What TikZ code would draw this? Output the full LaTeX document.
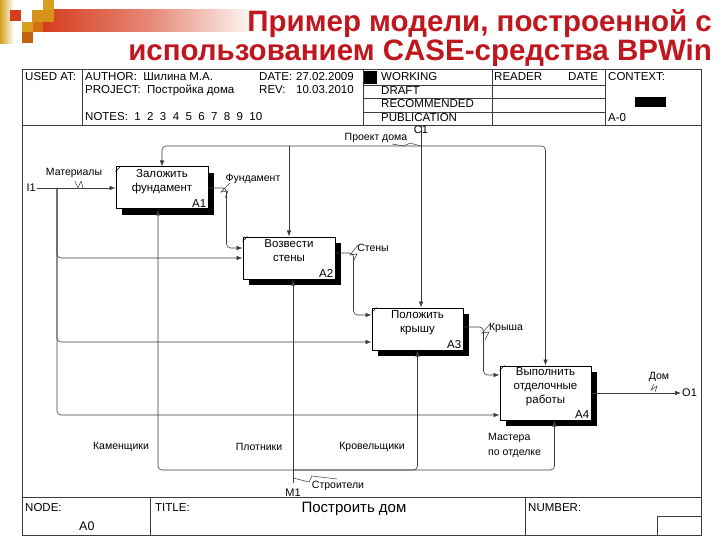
\documentclass[tikz,border=0pt]{standalone}
\usepackage{fontspec}
\setmainfont{Liberation Sans}
\usetikzlibrary{arrows.meta,calc,shadows}
\definecolor{titred}{RGB}{192,22,30}
\definecolor{goldc}{RGB}{214,160,30}
\definecolor{orgc}{RGB}{214,110,20}
\definecolor{redc}{RGB}{214,60,30}
\definecolor{ln}{RGB}{60,60,60}
\begin{document}
\begin{tikzpicture}[x=1pt,y=-1pt,
  hdr/.style={font=\fontsize{11.5}{13}\selectfont, inner sep=0pt, anchor=base west},
  lbl/.style={font=\fontsize{10.5}{13}\selectfont, inner sep=0pt},
  abox/.style={draw=black, line width=1pt, fill=white, minimum width=92pt, minimum height=42pt,
     drop shadow={shadow xshift=6pt, shadow yshift=-6pt, fill=black, opacity=1}},
  btxt/.style={font=\fontsize{11.5}{14}\selectfont, align=center, inner sep=0pt, anchor=north},
  bnum/.style={font=\fontsize{11.5}{13}\selectfont, inner sep=2pt, anchor=south east},
  frm/.style={draw=ln, line width=0.7pt},
  arr/.style={draw=ln, line width=0.6pt, -{Latex[length=6pt,width=4.5pt]}},
  rc/.style={rounded corners=4pt},
  sq/.style={draw=ln, line width=0.5pt}]
\useasboundingbox (0,0) rectangle (720,540);
\fill[white] (0,0) rectangle (720,540);
% decoration
\shade[left color=goldc, right color=white] (0,0) rectangle (14,44);
\shade[left color=redc, right color=white, middle color=redc!60!white] (43,10) rectangle (260,32);
\fill[goldc] (43,0) rectangle (54,10);
\fill[goldc!70!orgc] (32,10) rectangle (54,22);
\fill[redc] (10,10) rectangle (21,21);
\fill[goldc] (22,22) rectangle (33,32);
\fill[orgc] (33,22) rectangle (43,32);
\fill[orgc!90!black] (22,32) rectangle (33,43);
% title
\node[font=\fontsize{29.5}{32}\selectfont\bfseries, text=titred, anchor=base east, inner sep=0pt] (t1) at (712,32) {Пример модели, построенной с};
\node[font=\fontsize{29.5}{32}\selectfont\bfseries, text=titred, anchor=base east, inner sep=0pt] (t2) at (712,61) {использованием CASE-средства BPWin};
% frame
\draw[frm] (22,69) rectangle (701,535);
\draw[frm] (22,125) -- (701,125);
\draw[frm] (22,497) -- (701,497);
\draw[frm] (82,69) -- (82,125);
\draw[frm] (363,69) -- (363,125);
\draw[frm] (492,69) -- (492,125);
\draw[frm] (605,69) -- (605,125);
\draw[frm] (363,85) -- (605,85);
\draw[frm] (363,98) -- (605,98);
\draw[frm] (363,112) -- (605,112);
\fill[black] (364,71) rectangle (377,84);
\fill[black] (635,97) rectangle (666,107);
\draw[frm] (150,497) -- (150,535);
\draw[frm] (525,497) -- (525,535);
\draw[frm] (657,535) -- (657,516) -- (701,516);
% header text
\node[hdr] (usedat) at (25,81) {USED AT:};
\node[hdr] (author) at (85,81) {AUTHOR:\ \ Шилина М.А.};
\node[hdr] (date) at (259,81) {DATE:};
\node[hdr] (dateval) at (296,81) {27.02.2009};
\node[hdr] (project) at (85,94) {PROJECT:\ \ Постройка дома};
\node[hdr] (rev) at (259,94) {REV:};
\node[hdr] (revval) at (296,94) {10.03.2010};
\node[hdr] (notes) at (85,121) {NOTES:\ \ 1\ \ 2\ \ 3\ \ 4\ \ 5\ \ 6\ \ 7\ \ 8\ \ 9\ \ 10};
\node[hdr] (working) at (381,81) {WORKING};
\node[hdr] (draft) at (381,95) {DRAFT};
\node[hdr] (recom) at (381,108) {RECOMMENDED};
\node[hdr] (publ) at (381,121.5) {PUBLICATION};
\node[hdr] (reader) at (494,81) {READER};
\node[hdr] (date2) at (568,81) {DATE};
\node[hdr] (context) at (608,81) {CONTEXT:};
\node[hdr] (a0ctx) at (608,121.5) {A-0};
% footer text
\node[hdr] (nodelbl) at (25,511) {NODE:};
\node[hdr, font=\fontsize{12.5}{14}\selectfont] (a0) at (79,530) {A0};
\node[hdr] (title) at (155,511) {TITLE:};
\node[font=\fontsize{15}{16}\selectfont, inner sep=0pt] (titleval) at (354,509) {Построить дом};
\node[hdr] (number) at (528,511) {NUMBER:};
% boxes
\node[abox] (A1) at (162,188) {};
\node[abox] (A2) at (289,258) {};
\node[abox, minimum width=91pt] (A3) at (417.5,329) {};
\node[abox, minimum width=91pt, minimum height=54pt] (A4) at (545.5,393) {};
\foreach \b in {A1,A2,A3,A4}{
  \draw[line width=0.6pt] ($(\b.north west)+(0,5)$) -- ($(\b.north west)+(5,0)$);
  \node[bnum] (n\b) at (\b.south east) {\b};
}
\node[btxt] (t A1) at ($(A1.north)+(0,2.5)$) {Заложить\\фундамент};
\node[btxt] (t A2) at ($(A2.north)+(0,2.5)$) {Возвести\\стены};
\node[btxt] (t A3) at ($(A3.north)+(0,2.5)$) {Положить\\крышу};
\node[btxt] (t A4) at ($(A4.north)+(0,1.5)$) {Выполнить\\отделочные\\работы};
% boundary coordinates
\coordinate (C1) at (421,125);
\coordinate (cj) at (421,146);
\coordinate (I1) at (37,188);
\coordinate (ij) at (57,188);
\coordinate (O1) at (681,393);
\coordinate (M1) at (293,483);
\coordinate (mj) at (293,470);
\node[lbl, font=\fontsize{11}{13}\selectfont] (C1lbl) at (421,130) {C1};
\node[lbl, font=\fontsize{11}{13}\selectfont, anchor=east] (I1lbl) at (36,188) {I1};
\node[lbl, font=\fontsize{11}{13}\selectfont, anchor=west] (O1lbl) at (682,393) {O1};
\node[lbl, font=\fontsize{11}{13}\selectfont] (M1lbl) at (293,493) {M1};
% controls
\draw[arr] (C1) -- (C1 |- A3.north);
\draw[arr, rc] (cj) -| (A1.north);
\draw[arr, rc] (cj) -| (A4.north);
\draw[arr] (cj -| A2.north) -- (A2.north);
% inputs
\draw[arr] (I1) -- (A1.west);
\draw[arr, rc] (ij) |- (A2.west);
\draw[arr, rc] (ij) |- ($(A3.west)+(0,13)$);
\draw[arr, rc] (ij) |- ($(A4.west)+(0,22)$);
% outputs
\draw[arr, rc] (A1.east) -- ++(18,0) |- ($(A2.west)+(0,-10)$);
\draw[arr, rc] ($(A2.east)+(0,-5)$) -- ++(18,0) |- ($(A3.west)+(0,-14)$);
\draw[arr, rc] ($(A3.east)+(0,-2)$) -- ++(20,0) |- ($(A4.west)+(0,-18)$);
\draw[arr] (A4.east) -- (O1);
% mechanisms
\draw[arr] (M1) -- (M1 |- A2.south);
\draw[arr, rc] (mj) -| ($(A1.south)+(-4,0)$);
\draw[arr, rc] (mj) -| (A3.south);
\draw[arr, rc] (mj) -| ($(A4.south)+(9,0)$);
% labels
\node[lbl] (lmat) at (74,173) {Материалы};
\draw[sq] (75,181) -- (78,188) -- (81,181) -- (83,188);
\node[lbl] (lfund) at (253,179) {Фундамент};
\draw[sq] (230,183) -- (221,192) -- (228,191) -- (225,198);
\node[lbl] (lproj) at (376,138) {Проект дома};
\draw[sq] (392,144) -- (404,146) -- (410,143) -- (421,146);
\node[lbl] (lsten) at (373,248) {Стены};
\draw[sq] (358,245) -- (350,255) -- (357,254) -- (353,262);
\node[lbl] (lkr) at (506,328) {Крыша};
\draw[sq] (491,323) -- (482,333) -- (489,332) -- (485,340);
\node[lbl] (ldom) at (659,377) {Дом};
\draw[sq] (654,384) -- (651,390) -- (657,386) -- (655,392);
\node[lbl] (lkam) at (121,447) {Каменщики};
\node[lbl] (lplot) at (259,447) {Плотники};
\node[lbl] (lkrov) at (372,447) {Кровельщики};
\node[lbl, align=left, anchor=north west, font=\fontsize{10.5}{15}\selectfont] (lmast) at (488,433) {Мастера\\по отделке};
\node[lbl] (lstr) at (338,486) {Строители};
\draw[sq] (293,478) -- (309,482) -- (312,476) -- (337,479);
\end{tikzpicture}
\end{document}
